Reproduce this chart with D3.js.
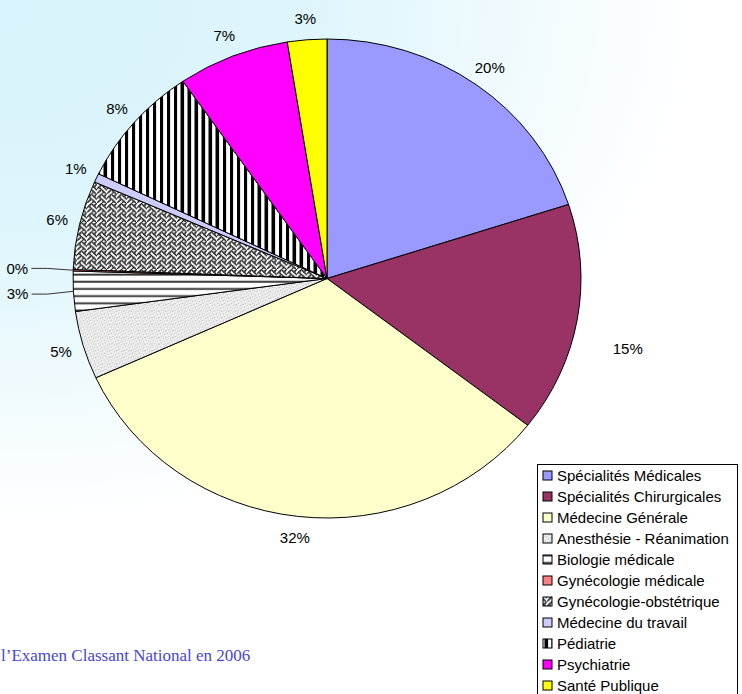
<!DOCTYPE html>
<html>
<head>
<meta charset="utf-8">
<script src="https://cdn.jsdelivr.net/npm/d3@7/dist/d3.min.js"></script>
<style>
  body { margin: 0; background: #fff; }
  svg { display: block; }
</style>
</head>
<body>
<div id="chart"></div>
<script>
var svgWidth = 742;
var svgHeight = 694;

// slices, clockwise from 12 o'clock
var categories = [
  "Spécialités Médicales",
  "Spécialités Chirurgicales",
  "Médecine Générale",
  "Anesthésie - Réanimation",
  "Biologie médicale",
  "Gynécologie médicale",
  "Gynécologie-obstétrique",
  "Médecine du travail",
  "Pédiatrie",
  "Psychiatrie",
  "Santé Publique"
];
var values = [20.0, 15.5, 32.7, 4.6, 2.7, 0.1, 6.0, 0.6, 8.2, 7.1, 2.5];
var pctLabels = ["20%", "15%", "32%", "5%", "3%", "0%", "6%", "1%", "8%", "7%", "3%"];
var footText = "l\u2019Examen Classant National en 2006";

// fills (plain colours or pattern ids)
var fills = ["#9999FF", "#993366", "#FFFFCC", "url(#speckle)", "url(#hlines)",
  "#FF8080", "url(#weave)", "#CCCCFF", "url(#vlines)", "#FF00FF", "#FFFF00"];
var color = d3.scaleOrdinal(categories, fills);

// the pie is drawn as a slightly squashed ellipse, like the original
var cx = 327, cy = 278.5, rx = 254, ry = 239.5;
var squash = ry / rx;

var svg = d3.select("#chart").append("svg")
  .attr("width", svgWidth)
  .attr("height", svgHeight);

var defs = svg.append("defs");

// background: pale cyan in the top-left corner fading to white
var grad = defs.append("radialGradient")
  .attr("id", "bg")
  .attr("gradientUnits", "userSpaceOnUse")
  .attr("cx", 0).attr("cy", 0).attr("r", 720)
  .attr("gradientTransform", "scale(1,0.75)");
grad.append("stop").attr("offset", 0).attr("stop-color", "#D9F4FC");
grad.append("stop").attr("offset", 0.4).attr("stop-color", "#DDF5FC");
grad.append("stop").attr("offset", 0.97).attr("stop-color", "#FFFFFF");

// speckled grey
var sp = defs.append("pattern").attr("id", "speckle")
  .attr("patternUnits", "userSpaceOnUse").attr("width", 7).attr("height", 7);
sp.append("rect").attr("width", 7).attr("height", 7).attr("fill", "#E9E9E9");
for (var i = 0; i < 49; i++) {
  var k = (i * 29 + 5) % 11;
  if (k < 2) {
    sp.append("rect").attr("x", i % 7).attr("y", Math.floor(i / 7))
      .attr("width", 1).attr("height", 1).attr("fill", k === 0 ? "#C4C4C4" : "#FAFAFA");
  }
}

// horizontal lines
var hl = defs.append("pattern").attr("id", "hlines")
  .attr("patternUnits", "userSpaceOnUse").attr("width", 8).attr("height", 7.6);
hl.append("rect").attr("width", 8).attr("height", 7.6).attr("fill", "#fff");
hl.append("rect").attr("y", 2.5).attr("width", 8).attr("height", 2).attr("fill", "#333");

// vertical stripes
var vl = defs.append("pattern").attr("id", "vlines")
  .attr("patternUnits", "userSpaceOnUse").attr("width", 7).attr("height", 8);
vl.append("rect").attr("width", 7).attr("height", 8).attr("fill", "#fff");
vl.append("rect").attr("x", 0.5).attr("width", 3.6).attr("height", 8).attr("fill", "#000");

// weave bitmap
var weaveRows = [0x11, 0x2a, 0x44, 0xa2, 0x11, 0x28, 0x44, 0x8a];
var wv = defs.append("pattern").attr("id", "weave")
  .attr("patternUnits", "userSpaceOnUse").attr("width", 10).attr("height", 10);
wv.append("rect").attr("width", 10).attr("height", 10).attr("fill", "#fff");
weaveRows.forEach(function(row, r) {
  for (var c = 0; c < 8; c++) {
    if (row & (0x80 >> c)) {
      wv.append("rect").attr("x", c * 1.25 - 0.2).attr("y", r * 1.25 - 0.2)
        .attr("width", 1.7).attr("height", 1.7).attr("fill", "#1a1a1a");
    }
  }
});

svg.append("rect")
  .attr("width", svgWidth).attr("height", svgHeight)
  .attr("fill", "url(#bg)");

var data = categories.map(function(c, i) {
  return { name: c, value: values[i], label: pctLabels[i] };
});

var pie = d3.pie().sort(null).value(d => d.value);
var arcs = pie(data);

var arc = d3.arc().innerRadius(0).outerRadius(rx);

var pieGroup = svg.append("g")
  .attr("transform", `translate(${cx},${cy}) scale(1,${squash})`);

pieGroup.selectAll("path")
  .data(arcs)
  .enter()
  .append("path")
  .attr("d", arc)
  .attr("fill", d => color(d.data.name))
  .attr("stroke", "#000")
  .attr("stroke-width", 1)
  .attr("vector-effect", "non-scaling-stroke");

// labels outside the ellipse
var pushed = ["Spécialités Chirurgicales", "Biologie médicale", "Gynécologie médicale"];

function ellipsePoint(angle, k) {
  return [cx + rx * k * Math.sin(angle), cy - ry * k * Math.cos(angle)];
}

var labelGroup = svg.append("g")
  .attr("font-family", "Liberation Sans, Arial, sans-serif")
  .attr("font-size", "15px")
  .attr("fill", "#000");

arcs.forEach(function(d) {
  var mid = (d.startAngle + d.endAngle) / 2;
  var far = pushed.indexOf(d.data.name) >= 0;
  var p = ellipsePoint(mid, far ? 1.22 : 1.09);
  if (d.data.name === "Spécialités Chirurgicales") p = ellipsePoint(mid + 0.07, 1.22);
  labelGroup.append("text")
    .attr("x", p[0])
    .attr("y", p[1])
    .attr("dy", "0.36em")
    .attr("text-anchor", "middle")
    .text(d.data.label);
  if (far && d.data.value < 5) {
    var e = ellipsePoint(mid, 1);
    var sx = p[0] + 14;
    labelGroup.append("polyline")
      .attr("points", [[sx, p[1]], [sx + 16, p[1]], e].map(q => q.join(",")).join(" "))
      .attr("fill", "none")
      .attr("stroke", "#333")
      .attr("stroke-width", 1);
  }
});

// legend (runs past the bottom edge, as in the original)
var legend = svg.append("g").attr("transform", "translate(537,464)");
legend.append("rect")
  .attr("x", 0.5).attr("y", 0.5)
  .attr("width", 200).attr("height", 260)
  .attr("fill", "#fff")
  .attr("stroke", "#000");

var rows = legend.selectAll("g.row")
  .data(categories)
  .enter()
  .append("g")
  .attr("class", "row")
  .attr("transform", (d, i) => `translate(0,${11.5 + i * 21})`);

rows.append("rect")
  .attr("x", 6).attr("y", -4.5)
  .attr("width", 9).attr("height", 9)
  .attr("fill", d => color(d))
  .attr("stroke", "#000")
  .attr("stroke-width", 1);

rows.append("text")
  .attr("x", 20)
  .attr("y", 5)
  .attr("font-family", "Liberation Sans, Arial, sans-serif")
  .attr("font-size", "15px")
  .attr("fill", "#000")
  .text(d => d);

// caption (cut at the left edge in the original)
svg.append("text")
  .attr("x", 1)
  .attr("y", 661)
  .attr("font-family", "Liberation Serif, Times New Roman, serif")
  .attr("font-size", "17px")
  .attr("fill", "#4646DC")
  .text(footText);
</script>
</body>
</html>
